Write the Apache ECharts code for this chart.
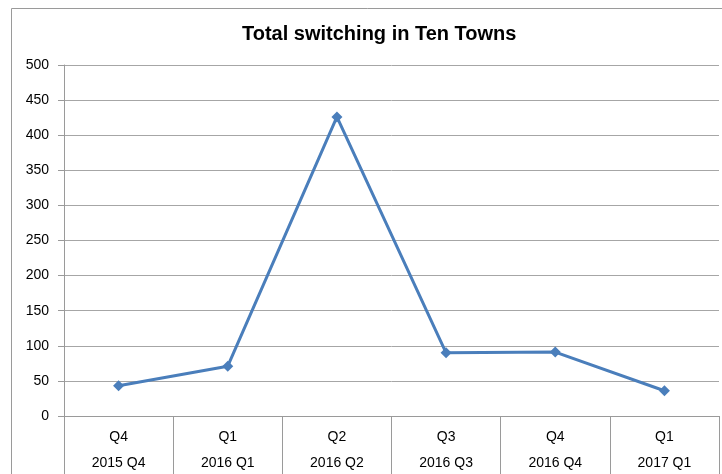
<!DOCTYPE html>
<html>
<head>
<meta charset="utf-8">
<script src="https://cdn.jsdelivr.net/npm/echarts@6/dist/echarts.min.js"></script>
<style>
  html, body { margin: 0; padding: 0; background: #fff; }
  #chart { width: 722px; height: 474px; }
</style>
</head>
<body>
<div id="chart"></div>
<script>
// quarters (top label row) and periods (bottom label row)
const quarters = ['Q4', 'Q1', 'Q2', 'Q3', 'Q4', 'Q1']
const periods = ['2015 Q4', '2016 Q1', '2016 Q2', '2016 Q3', '2016 Q4', '2017 Q1']
const switching = [43, 71, 426, 90, 91, 36]

const myChart = echarts.init(document.getElementById('chart'))

const option = {
  backgroundColor: '#fff',
  animation: false,
  title: {
    text: 'Total switching in Ten Towns',
    left: 237,
    top: 19,
    textStyle: {
      fontFamily: 'Liberation Sans, Arial, sans-serif',
      fontSize: 20,
      fontWeight: 'bold',
      color: '#000'
    }
  },
  graphic: [
    {
      type: 'rect',
      shape: { x: 11.5, y: 8.5, width: 730, height: 480 },
      style: { fill: 'none', stroke: '#9a9a9a', lineWidth: 1 },
      z: -1
    }
  ],
  grid: {
    left: 64,
    right: 3,
    top: 65,
    bottom: 58,
    outerBoundsMode: 'none',
    containLabel: false
  },
  xAxis: {
    type: 'category',
    data: quarters.map((q, i) => q + '\n' + periods[i]),
    boundaryGap: true,
    axisLine: { lineStyle: { color: '#9a9a9a', width: 1 } },
    axisTick: { show: true, length: 62, lineStyle: { color: '#9a9a9a' } },
    axisLabel: {
      margin: 8,
      color: '#000',
      fontFamily: 'Liberation Sans, Arial, sans-serif',
      fontSize: 14,
      lineHeight: 26
    }
  },
  yAxis: {
    type: 'value',
    min: 0,
    max: 500,
    interval: 50,
    axisLine: { show: true, lineStyle: { color: '#9a9a9a', width: 1 } },
    axisTick: { show: true, length: 6, lineStyle: { color: '#9a9a9a' } },
    axisLabel: {
      margin: 15,
      color: '#000',
      fontFamily: 'Liberation Sans, Arial, sans-serif',
      fontSize: 14
    },
    splitLine: { lineStyle: { color: '#a6a6a6', width: 1 } }
  },
  series: [
    {
      type: 'line',
      data: switching,
      symbol: 'diamond',
      symbolSize: 11,
      lineStyle: { color: '#4a7ebb', width: 3 },
      itemStyle: { color: '#4a7ebb' }
    }
  ]
}
option && myChart.setOption(option)
</script>
</body>
</html>
